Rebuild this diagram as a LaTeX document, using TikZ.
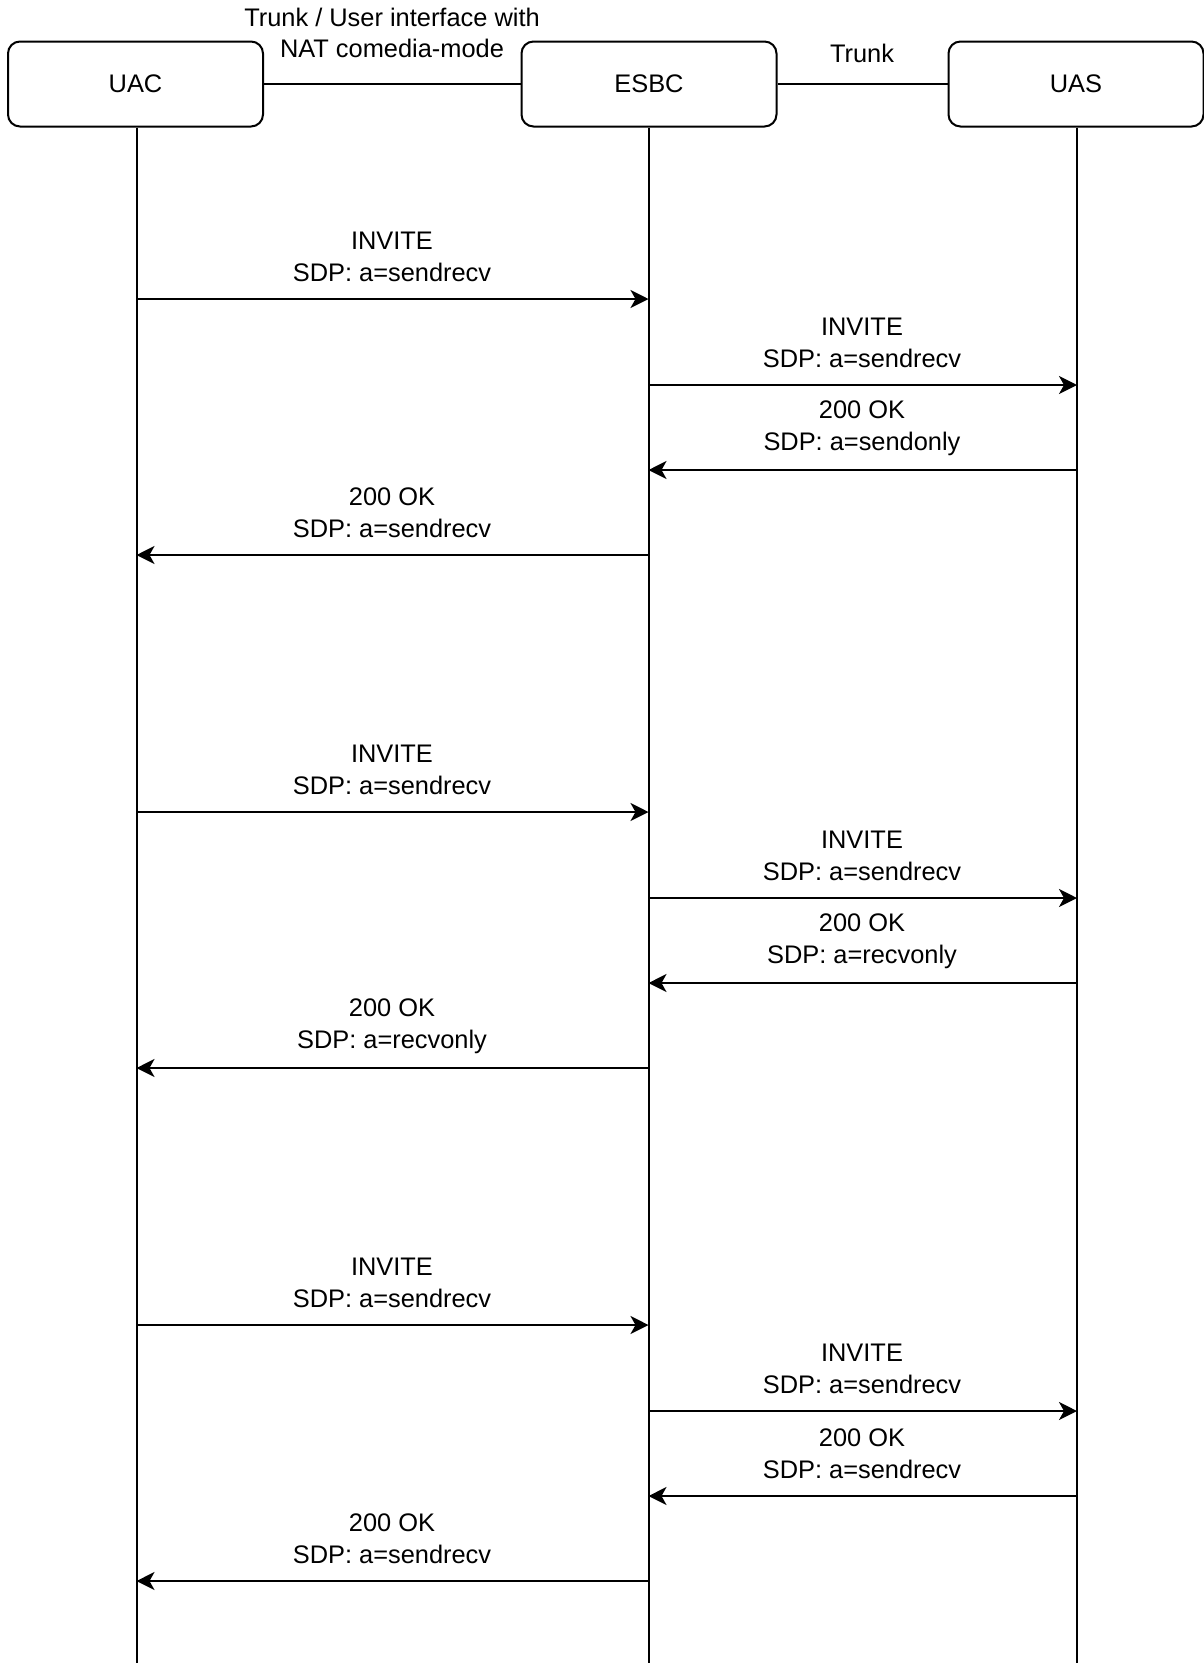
\documentclass[tikz,border=0pt]{standalone}
\usepackage{fontspec}
\setmainfont{Liberation Sans}
\usetikzlibrary{arrows.meta}
\begin{document}
\begin{tikzpicture}[x=1pt,y=-1pt,
  every node/.style={font=\fontsize{25.4}{31.8}\selectfont, inner sep=0pt},
  actor/.style={draw, line width=2pt, rounded corners=12pt, minimum width=255pt, minimum height=85pt},
  lline/.style={line width=2pt},
  msg/.style={line width=2pt, -{Stealth[length=18pt,width=18pt,inset=5pt]}},
  lbl/.style={align=center}]
\useasboundingbox (0,0) rectangle (1203,1663);
% actors
\node[actor] (uac) at (135.5,84) {UAC};
\node[actor] (esbc) at (649,84) {ESBC};
\node[actor] (uas) at (1076,84) {UAS};
\draw[lline] (uac.east) -- (esbc.west);
\draw[lline] (esbc.east) -- (uas.west);
\node[lbl] (lblA) at (392,33) {Trunk / User interface with\\NAT comedia-mode};
\node (lblB) at (862,53) {Trunk};
% lifeline ends
\coordinate (uacend) at (136.5,1663);
\coordinate (esbcend) at (648.5,1663);
\coordinate (uasend) at (1077,1663);
\draw[lline] (uac.south -| uacend) -- (uacend);
\draw[lline] (esbc.south -| esbcend) -- (esbcend);
\draw[lline] (uas.south -| uasend) -- (uasend);
% message blocks
\foreach \off/\ra/\rb/\rc [count=\i] in {0/sendonly/sendrecv/sendrecv, 513/recvonly/recvonly/recvonly, 1026/sendrecv/sendrecv/sendrecv}{
  \pgfmathsetmacro{\ya}{299+\off}
  \pgfmathsetmacro{\yb}{385+\off}
  \pgfmathsetmacro{\yc}{470+\off}
  \pgfmathsetmacro{\yd}{555+\off}
  \coordinate (a1\i) at (uacend |- 0,\ya);
  \coordinate (a2\i) at (esbcend |- 0,\ya);
  \coordinate (b1\i) at (esbcend |- 0,\yb);
  \coordinate (b2\i) at (uasend |- 0,\yb);
  \coordinate (c1\i) at (uasend |- 0,\yc);
  \coordinate (c2\i) at (esbcend |- 0,\yc);
  \coordinate (d1\i) at (esbcend |- 0,\yd);
  \coordinate (d2\i) at (uacend |- 0,\yd);
  \draw[msg] (a1\i) -- (a2\i);
  \draw[msg] (b1\i) -- (b2\i);
  \draw[msg] (c1\i) -- (c2\i);
  \draw[msg] (d1\i) -- (d2\i);
  \node[lbl] (la\i) at (392,\ya-42) {INVITE\\SDP: a=sendrecv};
  \node[lbl] (lb\i) at (862,\yb-42) {INVITE\\SDP: a=sendrecv};
  \node[lbl] (lc\i) at (862,\yc-42) {200 OK\\SDP: a=\ra};
  \node[lbl] (ld\i) at (392,\yd-42) {200 OK\\SDP: a=\rb};
}
\end{tikzpicture}
\end{document}
